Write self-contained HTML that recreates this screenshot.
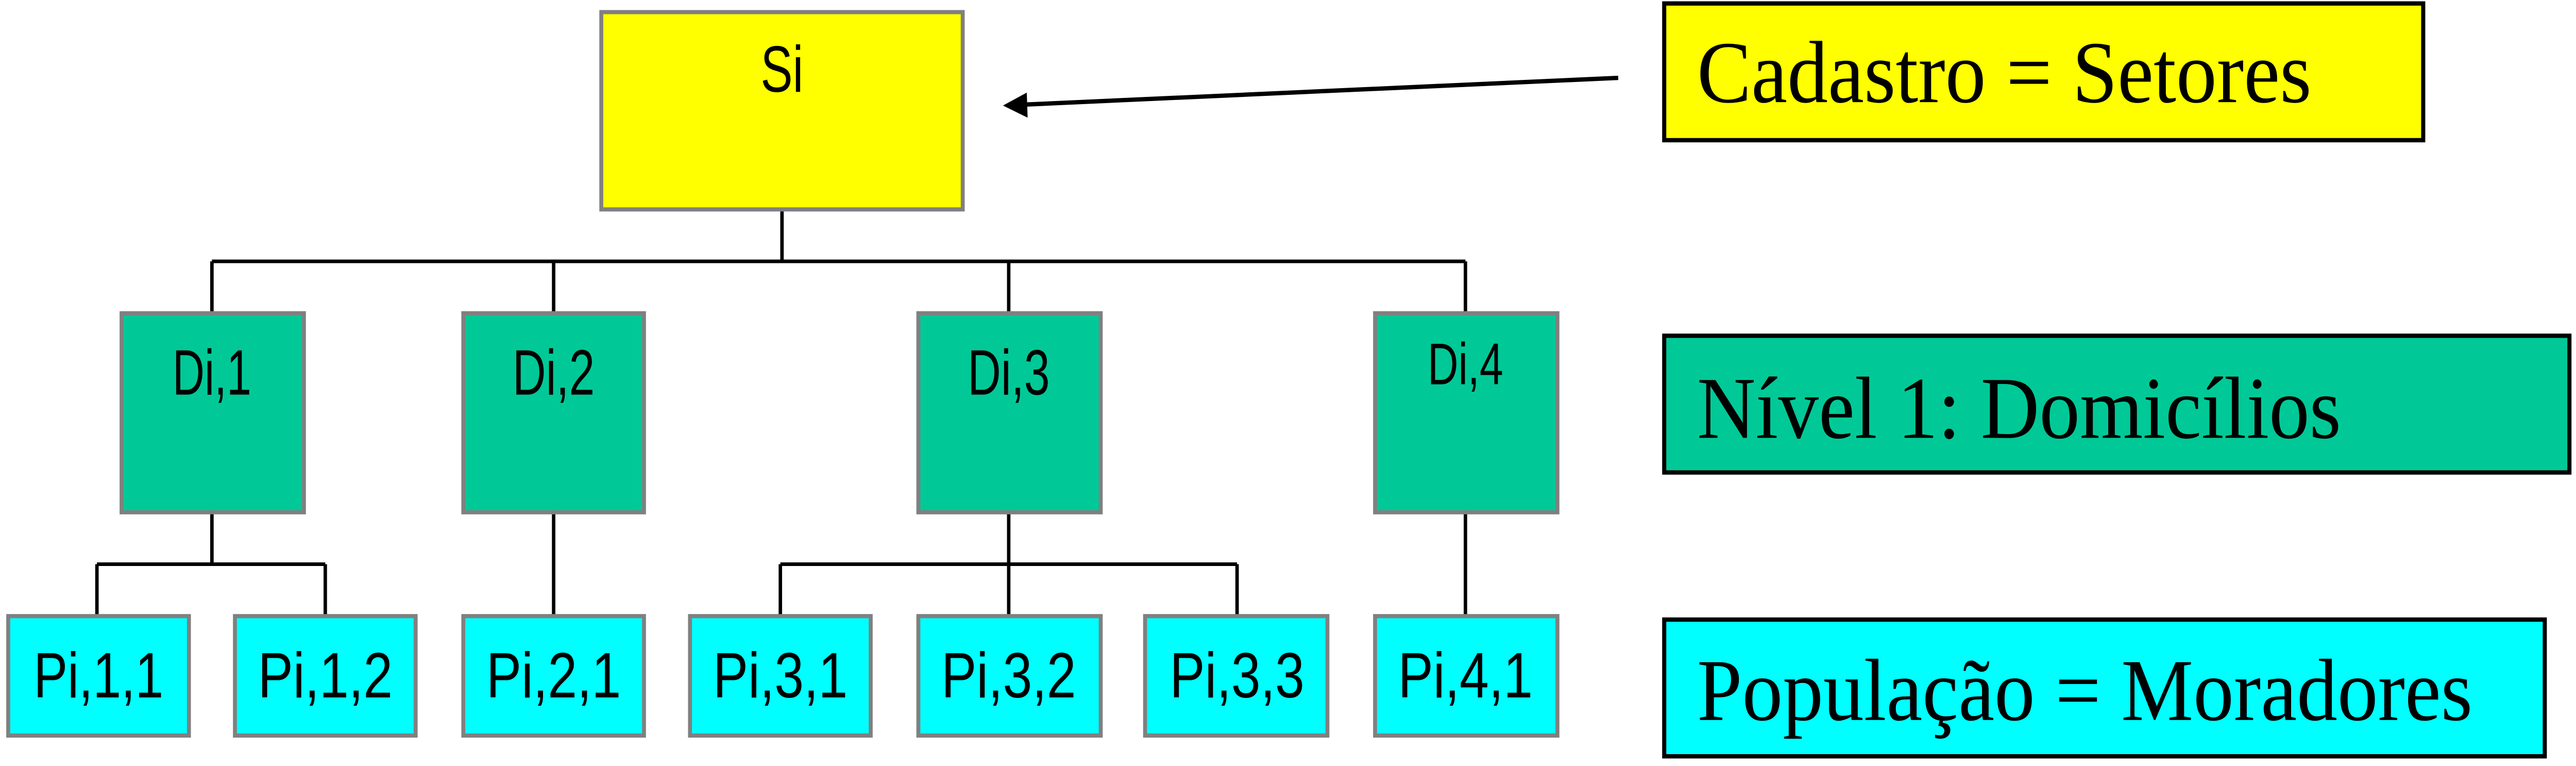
<!DOCTYPE html>
<html><head><meta charset="utf-8"><style>html,body{margin:0;padding:0;background:#fff;overflow:hidden;width:100%;height:100%}svg{display:block;position:fixed;left:0;top:0;width:100vw;height:100vh}</style></head>
<body>
<svg viewBox="0 0 1568 442.6" preserveAspectRatio="none" xmlns="http://www.w3.org/2000/svg">
<g stroke="#000" stroke-width="2.1" fill="none">
<path d="M476 121V151M129 151H892M129 151V181M337 151V181M614 151V181M892 151V181"/>
<path d="M129 296V326M59 326H198M59 326V356M198 326V356"/>
<path d="M337 296V356"/>
<path d="M614 296V356M475 326H753M475 326V356M753 326V356"/>
<path d="M892 296V356"/>
<path d="M985 45L622 60.5" stroke-width="2.5"/>
</g>
<polygon points="610.5,61 625,53.5 625.5,68" fill="#000"/>
<g stroke="#808080" stroke-width="2.4">
<rect x="366" y="7" width="220" height="114" fill="#ffff00"/>
<rect x="74" y="181" width="111" height="115" fill="#00c997"/>
<rect x="282" y="181" width="110" height="115" fill="#00c997"/>
<rect x="559" y="181" width="111" height="115" fill="#00c997"/>
<rect x="837" y="181" width="111" height="115" fill="#00c997"/>
<rect x="5" y="356" width="110" height="69" fill="#00ffff"/>
<rect x="143" y="356" width="110" height="69" fill="#00ffff"/>
<rect x="282" y="356" width="110" height="69" fill="#00ffff"/>
<rect x="420" y="356" width="110" height="69" fill="#00ffff"/>
<rect x="559" y="356" width="111" height="69" fill="#00ffff"/>
<rect x="697" y="356" width="111" height="69" fill="#00ffff"/>
<rect x="837" y="356" width="111" height="69" fill="#00ffff"/>
</g>
<g stroke="#000" stroke-width="2.5">
<rect x="1013" y="2" width="462" height="79" fill="#ffff00"/>
<rect x="1013" y="194" width="551" height="79" fill="#00c997"/>
<rect x="1013" y="358" width="536" height="79" fill="#00ffff"/>
</g>
<g font-family="Liberation Sans, sans-serif" fill="#000" text-anchor="middle">
<text x="476" y="53" font-size="38" textLength="26" lengthAdjust="spacingAndGlyphs">Si</text>
<text x="129" y="228" font-size="37" textLength="48" lengthAdjust="spacingAndGlyphs">Di,1</text>
<text x="337" y="228" font-size="37" textLength="50" lengthAdjust="spacingAndGlyphs">Di,2</text>
<text x="614" y="228" font-size="37" textLength="50" lengthAdjust="spacingAndGlyphs">Di,3</text>
<text x="892" y="222" font-size="34" textLength="46" lengthAdjust="spacingAndGlyphs">Di,4</text>
<text x="60" y="403" font-size="37" textLength="79" lengthAdjust="spacingAndGlyphs">Pi,1,1</text>
<text x="198" y="403" font-size="37" textLength="82" lengthAdjust="spacingAndGlyphs">Pi,1,2</text>
<text x="337" y="403" font-size="37" textLength="82" lengthAdjust="spacingAndGlyphs">Pi,2,1</text>
<text x="475" y="403" font-size="37" textLength="82" lengthAdjust="spacingAndGlyphs">Pi,3,1</text>
<text x="614" y="403" font-size="37" textLength="82" lengthAdjust="spacingAndGlyphs">Pi,3,2</text>
<text x="753" y="403" font-size="37" textLength="82" lengthAdjust="spacingAndGlyphs">Pi,3,3</text>
<text x="892" y="403" font-size="37" textLength="82" lengthAdjust="spacingAndGlyphs">Pi,4,1</text>
</g>
<g font-family="Liberation Serif, serif" fill="#000" font-size="51">
<text x="1033" y="59" textLength="374" lengthAdjust="spacingAndGlyphs">Cadastro = Setores</text>
<text x="1033" y="253" textLength="392" lengthAdjust="spacingAndGlyphs">Nível 1: Domicílios</text>
<text x="1033" y="416" textLength="472" lengthAdjust="spacingAndGlyphs">População = Moradores</text>
</g>
</svg>
</body></html>
